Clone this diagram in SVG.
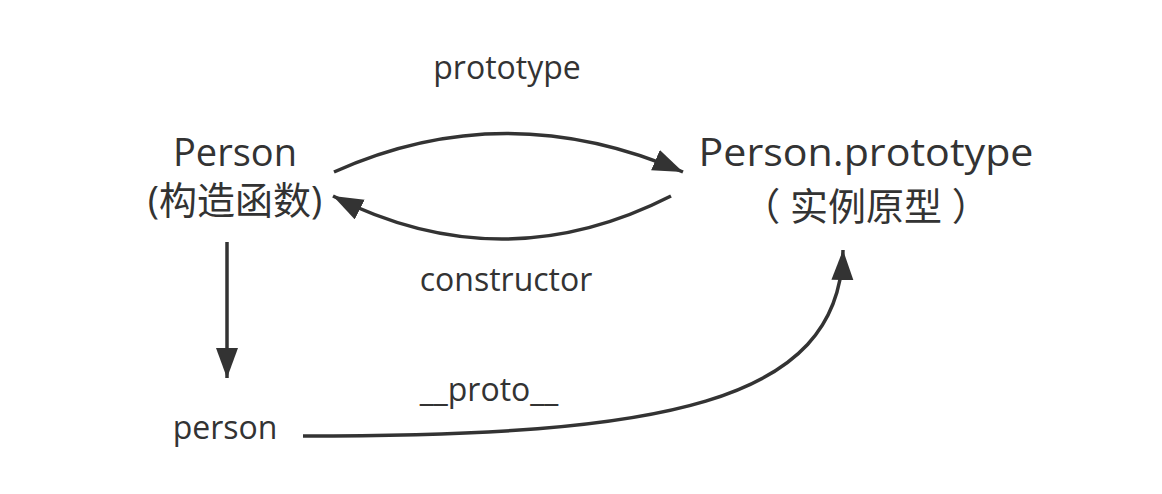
<svg xmlns="http://www.w3.org/2000/svg" width="1162" height="494" viewBox="0 0 1162 494">
<defs>
<style>
.t{font-family:"Open Sans","Noto Sans","Noto Sans CJK SC",sans-serif;fill:#333;text-anchor:middle}
.big{font-size:38px}
.lbl{font-size:32px}
.c{fill:none;stroke:#333;stroke-width:3.5}
</style>
<marker id="ah" markerUnits="userSpaceOnUse" markerWidth="32" markerHeight="24" refX="30" refY="11" orient="auto" viewBox="0 0 32 24">
<path d="M0,0 L30,11 L0,22 z" fill="#333"/>
</marker>
</defs>
<rect width="1162" height="494" fill="#fff"/>
<g id="connectors">
<path class="c" d="M334,172 Q505,95 683,172" marker-end="url(#ah)"/>
<path class="c" d="M671,196 Q502,282 333,196" marker-end="url(#ah)"/>
<path class="c" d="M227,242 L227,378" marker-end="url(#ah)"/>
<path class="c" d="M303,436 C660,436 840,405 843,250" marker-end="url(#ah)"/>
</g>
<g id="node-person-ctor">
<text class="t big" x="235" y="166">Person</text>
<text class="t big" x="235" y="214">(构造函数)</text>
</g>
<g id="node-prototype">
<text class="t big" x="866" y="166" textLength="335" lengthAdjust="spacingAndGlyphs">Person.prototype</text>
<text class="t big" x="866" y="220">（ 实例原型 ）</text>
</g>
<g id="node-person">
<text class="t lbl" x="225" y="439">person</text>
</g>
<g id="labels">
<text class="t lbl" x="507" y="79">prototype</text>
<text class="t lbl" x="506" y="291">constructor</text>
<text class="t lbl" x="489" y="401">__proto__</text>
</g>
</svg>
